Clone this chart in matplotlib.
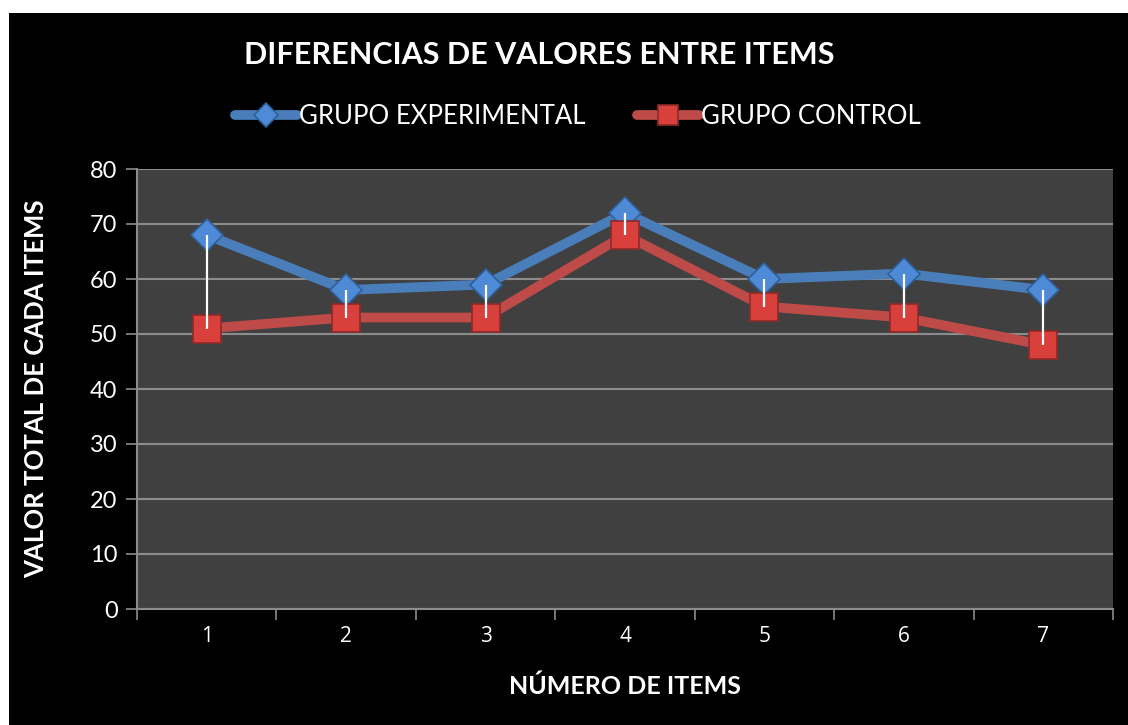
import matplotlib
matplotlib.use("Agg")
import matplotlib.pyplot as plt
from matplotlib.patches import Rectangle
from matplotlib.ticker import FixedLocator, NullFormatter

items = [1, 2, 3, 4, 5, 6, 7]
experimental = [68, 58, 59, 72, 60, 61, 58]
control = [51, 53, 53, 68, 55, 53, 48]
yticks = [0, 10, 20, 30, 40, 50, 60, 70, 80]

title = "DIFERENCIAS DE VALORES ENTRE ITEMS"
xlabel = "NÚMERO DE ITEMS"
ylabel = "VALOR TOTAL DE CADA ITEMS"
labels = ["GRUPO EXPERIMENTAL", "GRUPO CONTROL"]

W, H = 1128, 725
fig = plt.figure(figsize=(W / 100, H / 100), dpi=100, facecolor="white")
fig.patches.append(Rectangle((9 / W, 0), 1 - 9 / W, 1 - 13 / H, transform=fig.transFigure,
                             facecolor="black", edgecolor="none", zorder=-10))

ax = fig.add_axes([137 / W, 1 - 609 / H, (1113 - 137) / W, (609 - 169) / H])
ax.set_facecolor("#404040")
ax.set_xlim(0.5, 7.5)
ax.set_ylim(0, 80)

blue = "#4A7EBB"
red = "#BE4B48"

ax.plot(items, experimental, color=blue, linewidth=7, marker="D", markersize=16,
        markerfacecolor="#4F8AD6", markeredgecolor="#2E5F9A", markeredgewidth=1.2,
        solid_capstyle="round", zorder=3, label=labels[0])
ax.plot(items, control, color=red, linewidth=7, marker="s", markersize=20,
        markerfacecolor="#D9403C", markeredgecolor="#8E2A28", markeredgewidth=1.2,
        solid_capstyle="round", zorder=4, label=labels[1])
# high-low lines
ax.vlines(items, control, experimental, colors="white", linewidth=1.6, zorder=6)

ax.set_yticks(yticks)
ax.yaxis.grid(True, color="#8C8C8C", linewidth=1.5)
ax.set_axisbelow(True)

ax.xaxis.set_major_locator(FixedLocator([i + 0.5 for i in range(0, 8)]))
ax.xaxis.set_major_formatter(NullFormatter())
ax.set_xticks(items, [str(i) for i in items], minor=True, fontsize=15,
              family="Open Sans", color="white")
ax.tick_params(axis="x", which="major", length=8, width=1.2, color="#8C8C8C", direction="out")
ax.tick_params(axis="x", which="minor", length=0, pad=12)
ax.tick_params(axis="y", length=8, width=1.2, color="#8C8C8C", direction="out",
               labelsize=17, labelcolor="white", pad=6)
for lbl in ax.get_yticklabels():
    lbl.set_fontfamily("Lato")

for s in ["top", "right"]:
    ax.spines[s].set_visible(False)
for s in ["left", "bottom"]:
    ax.spines[s].set_color("#8C8C8C")
    ax.spines[s].set_linewidth(1.5)

fig.text(539 / W, 1 - 55 / H, title, ha="center", va="center", color="white",
         fontsize=22, fontweight="bold", family="Lato")
ax.set_xlabel(xlabel, color="white", fontsize=18, fontweight="bold", family="Lato", labelpad=20)
ax.set_ylabel(ylabel, color="white", fontsize=18.5, fontweight="bold", family="Lato", labelpad=30)

leg = fig.legend(loc="center", bbox_to_anchor=(578 / W, 1 - 116 / H), ncol=2, frameon=False,
                 handlelength=2.4, columnspacing=2.0, handletextpad=0.1, markerscale=0.75,
                 prop={"family": "Lato", "size": 18.5})
for t in leg.get_texts():
    t.set_color("white")

fig.savefig("out.png", dpi=100, facecolor="white")
